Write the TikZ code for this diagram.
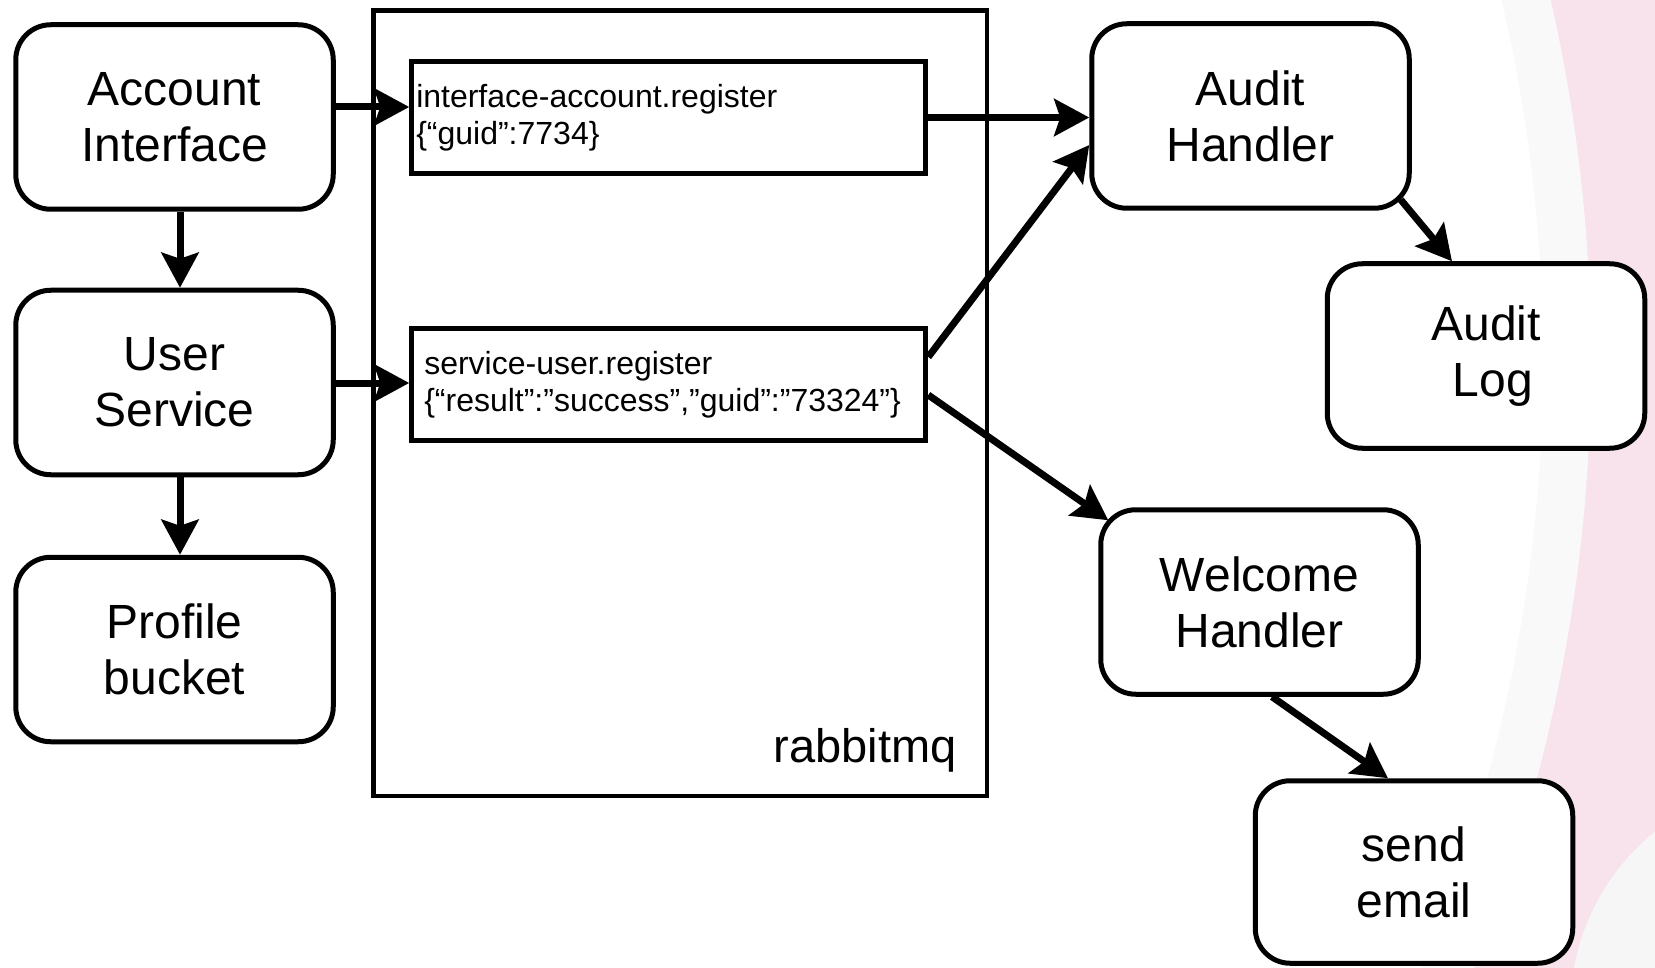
\documentclass[tikz,border=0pt]{standalone}
\usepackage{fontspec}
\setmainfont{Liberation Sans}
\usetikzlibrary{arrows.meta,calc}
\definecolor{bgpink}{RGB}{248,226,236}
\definecolor{bgband}{RGB}{250,249,250}
\definecolor{bggray}{RGB}{246,246,246}

\begin{document}
\begin{tikzpicture}[x=1pt,y=-1pt,
  svc/.style={draw, line width=5pt, rounded corners=35pt, fill=white,
    minimum width=317.5pt, minimum height=184.5pt, align=center, inner sep=0pt,
    font=\fontsize{48}{56}\selectfont},
  msg/.style={draw, line width=5pt, fill=white, minimum height=112.5pt,
    align=left, inner ysep=0pt, font=\fontsize{32}{37}\selectfont},
  flow/.style={line width=7pt, -{Stealth[length=35pt,width=37pt,inset=6pt]}}
]
\useasboundingbox (0,0) rectangle (1655,968);

% soft backdrop on the right edge
\begin{scope}
  \clip (0,0) rectangle (1655,968);
  \fill[bgpink] (0,0) rectangle (1655,968);
  \fill[bgband] (-32,361) circle[radius=1623];
  \fill[white] (-32,361) circle[radius=1575];
  \fill[bggray] (1800,1010) circle[radius=230];
\end{scope}

% producers
\node[svc] (AI) at (174.5,117) {Account\\Interface};
\node[svc] (US) at (174.5,382.5) {User\\Service};
\node[svc] (PB) at (174.5,649.5) {Profile\\bucket};

% broker with its two messages
\node[draw, line width=4.5pt, minimum width=613.5pt, minimum height=785.5pt,
  inner sep=0pt] (MQ) at (680.25,403.2) {};
\node[anchor=base east, inner sep=0pt, font=\fontsize{47}{56}\selectfont]
  (MQL) at (957,762) {rabbitmq};
\node[msg, inner xsep=4.5pt, text width=505pt] (IB) at (668.75,117.5)
  {interface-account.register\\\{“guid”:7734\}};
\node[msg, inner xsep=12.5pt, text width=489pt] (SB) at (668.75,384.5)
  {service-user.register\\\{“result”:”success”,”guid”:”73324”\}};

% consumers
\node[svc] (AH) at (1250.5,116) {Audit\\Handler};
\node[svc] (AL) at (1486,356) {Audit\\\hspace*{0.28em}Log};
\node[svc] (WH) at (1259.5,602) {Welcome\\Handler};
\node[svc, minimum height=182.5pt] (SE) at (1414,872) {send\\email};

% guide coordinates for the connectors
\coordinate (yAI) at (0,107);
\coordinate (yUS) at (0,383);
\coordinate (xL) at (180,0);
\coordinate (ySBa) at (0,357);
\coordinate (yAHin) at (0,145);
\coordinate (ySBb) at (0,395);
\coordinate (xAL) at (1452,0);
\coordinate (xWH) at (1272,0);
\coordinate (xSE) at (1388,0);

% connectors
\draw[flow] (AI.east |- yAI) -- (IB.west |- yAI);
\draw[flow] (US.east |- yUS) -- (SB.west |- yUS);
\draw[flow] (AI.south -| xL) -- (US.north -| xL);
\draw[flow] (US.south -| xL) -- (PB.north -| xL);
\draw[flow] (IB.east) -- (IB.east -| AH.west);
\draw[flow] (SB.east |- ySBa) -- (AH.west |- yAHin);
\draw[flow] (SB.east |- ySBb) -- ($(WH.north west)+(10,13)$);
\draw[flow] ($(AH.south east)+(-11,-11)$) -- (AL.north -| xAL);
\draw[flow] (WH.south -| xWH) -- (SE.north -| xSE);
\end{tikzpicture}
\end{document}
